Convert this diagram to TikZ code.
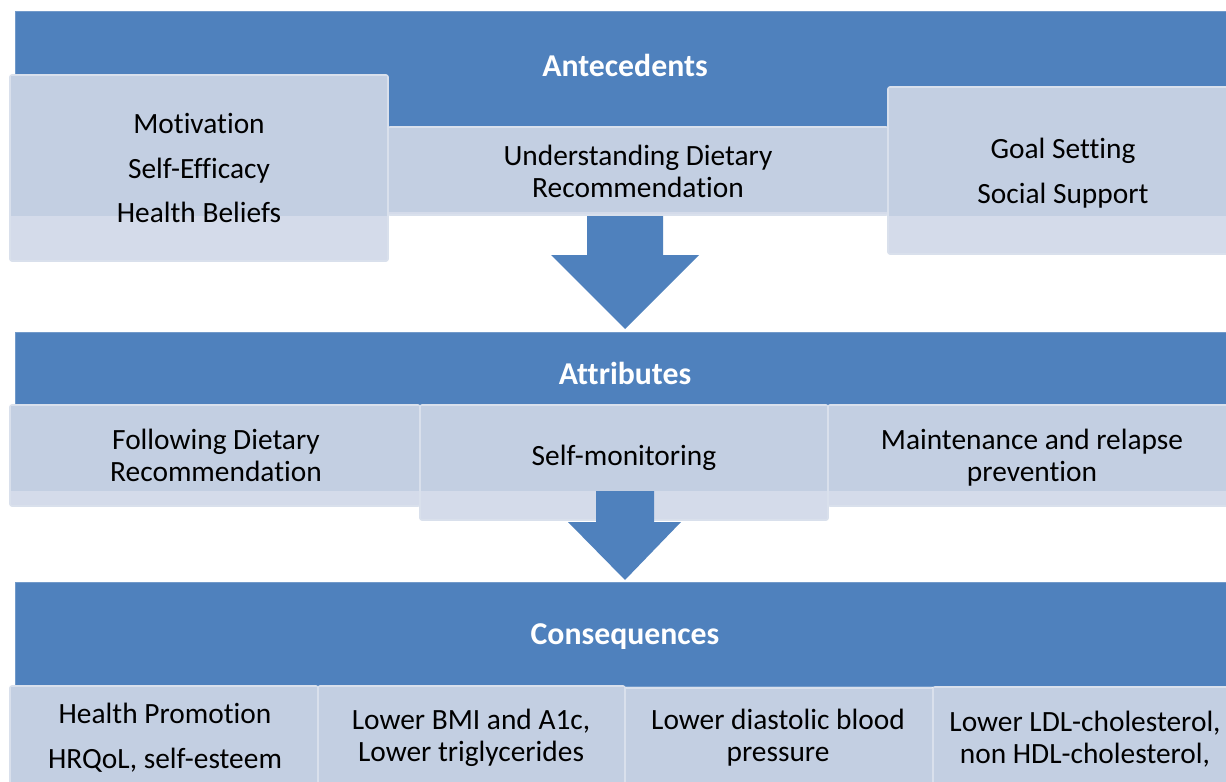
\documentclass[tikz,border=0pt]{standalone}
\usepackage{fontspec}
\setmainfont{Carlito}[Ligatures={NoCommon}]
\definecolor{band}{HTML}{4F81BD}
\definecolor{boxA}{HTML}{C3CFE2}
\definecolor{boxB}{HTML}{D4DBEA}
\definecolor{boxline}{HTML}{D9E0EC}
\begin{document}
\begin{tikzpicture}[x=0.025cm,y=-0.025cm,
  bandbox/.style={fill=band, draw=band!80!white, line width=0.6pt},
  lowbox/.style={fill=boxB, draw=boxline, line width=1.2pt, rounded corners=1.5pt},
  upbox/.style={fill=boxA},
  lbl/.style={font=\fontsize{20.9}{22.8}\selectfont, align=center, text=black, inner sep=0pt},
  lblw/.style={font=\fontsize{20.9}{31.8}\selectfont, align=center, text=black, inner sep=0pt},
  hdr/.style={font=\fontsize{22.6}{26}\selectfont\bfseries, text=white, inner sep=0pt},
  arr/.style={fill=band}]
\useasboundingbox (0,0) rectangle (1226,782);
\fill[white] (0,0) rectangle (1226,782);
\begin{scope}
\clip (0,0) rectangle (1226,782);
% ---------------- Antecedents ----------------
\draw[bandbox] (15,11) rectangle (1236,127);
\node[hdr] (hAnte) at (625,65) {Antecedents};
% middle box
\draw[lowbox] (388,127) rectangle (888,215);
\fill[upbox] (389,128) rectangle (887,212);
% left box
\draw[lowbox] (10,75) rectangle (388,261);
\fill[upbox] (11,76) rectangle (387,216);
% right box
\draw[lowbox] (888,87) rectangle (1240,254);
\fill[upbox] (889,88) rectangle (1239,216);
\node[lblw] (tLeft) at (199,168) {Motivation\\Self-Efficacy\\Health Beliefs};
\node[lbl] (tMid) at (638,171) {Understanding Dietary\\Recommendation};
\node[lblw] (tRight) at (1063,173) {Goal Setting\\Social Support};
% arrow 1
\fill[arr] (587,216) -- (663,216) -- (663,255) -- (699,255) -- (625,329) -- (551,255) -- (587,255) -- cycle;
% ---------------- Attributes ----------------
\draw[bandbox] (15,332) rectangle (1236,405);
\node[hdr] (hAttr) at (625,373) {Attributes};
\draw[lowbox] (10,405) rectangle (420,506);
\fill[upbox] (11,406) rectangle (419,491);
\draw[lowbox] (420,405) rectangle (828,520);
\fill[upbox] (421,406) rectangle (827,491);
\draw[lowbox] (828,405) rectangle (1240,506);
\fill[upbox] (829,406) rectangle (1239,491);
\node[lbl] (tA1) at (216,455) {Following Dietary\\Recommendation};
\node[lbl] (tA2) at (624,458) {Self-monitoring};
\node[lbl] (tA3) at (1032,458) {Maintenance and relapse\\prevention};
% arrow 2
\fill[arr] (596,491) -- (654,491) -- (654,522) -- (681,522) -- (625,580) -- (568,522) -- (596,522) -- cycle;
% ---------------- Consequences ----------------
\draw[bandbox] (15,582) rectangle (1236,686);
\node[hdr] (hCons) at (625,637) {Consequences};
\draw[lowbox] (10,686) rectangle (318,800);
\fill[upbox] (11,687) rectangle (317,800);
\draw[lowbox] (318,686) rectangle (625,800);
\fill[upbox] (319,687) rectangle (624,800);
\draw[lowbox] (625,688) rectangle (933,800);
\fill[upbox] (626,689) rectangle (932,800);
\draw[lowbox] (933,687) rectangle (1240,800);
\fill[upbox] (934,688) rectangle (1239,800);
\node[lblw] (tC1) at (165,737.5) {Health Promotion\\HRQoL, self-esteem};
\node[lbl] (tC2) at (471,737.5) {Lower BMI and A1c,\\Lower triglycerides};
\node[lbl] (tC3) at (778,737.5) {Lower diastolic blood\\pressure};
\node[lbl] (tC4) at (1085,739) {Lower LDL-cholesterol,\\non HDL-cholesterol,};
\end{scope}
\end{tikzpicture}
\end{document}
